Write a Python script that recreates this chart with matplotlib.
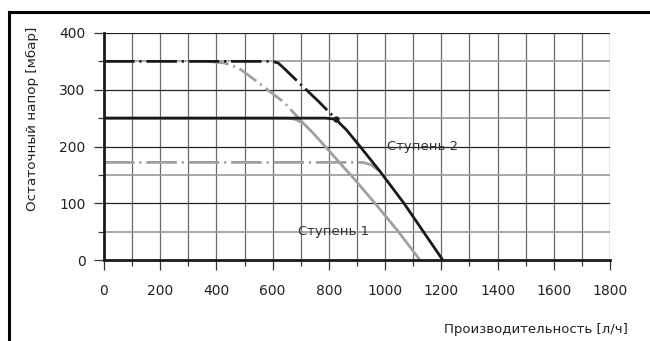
import matplotlib
matplotlib.use("Agg")
import matplotlib.pyplot as plt
from matplotlib.lines import Line2D
from matplotlib.ticker import MultipleLocator

plt.rcParams['font.family'] = ['DejaVu Sans']
plt.rcParams['lines.scale_dashes'] = False

# Ступень 2, сплошная
st2_x = [0, 790, 824, 863, 911, 982, 1067, 1136, 1205]
st2_y = [250, 250, 248, 229, 200, 156, 100, 50, 0]
# Ступень 2, штрихпунктир
st2dd_x = [0, 600, 620, 640, 709, 762, 822]
st2dd_y = [350, 350, 347, 338, 305, 280, 250]
# Ступень 1, сплошная
st1_x = [0, 650, 680, 709, 745, 798, 846, 881, 964, 1047, 1124]
st1_y = [250, 250, 248, 241, 223, 194, 167, 148, 100, 50, 0]
# Ступень 1, верхний штрихпунктир
st1dd_x = [370, 430, 480, 540, 600, 640, 709]
st1dd_y = [350, 347, 338, 316, 293, 278, 241]
# Ступень 1, нижний штрихпунктир
st1low_x = [0, 920, 950, 976]
st1low_y = [172, 172, 168, 158]

x_ticks = [0, 200, 400, 600, 800, 1000, 1200, 1400, 1600, 1800]
y_ticks = [0, 100, 200, 300, 400]

black = '#1a1a1a'
grey = '#a0a0a0'
txt = '#222222'

fig = plt.figure(figsize=(6.5, 3.41), dpi=100)
ax = fig.add_axes([104/650, 81/341, 506/650, 227/341])

ax.set_xlim(0, 1800)
ax.set_ylim(0, 400)

# сетка
for xv in range(100, 1801, 100):
    ax.axvline(xv, color='#6a6a6a', lw=0.9, zorder=1)
for yv in range(50, 401, 50):
    if yv % 100 == 0:
        ax.axhline(yv, color='#222222', lw=0.9, zorder=1)
    else:
        ax.axhline(yv, color='#999999', lw=1.2, zorder=1)

dd = (0, (22, 3.5, 1.5, 3.5))
dd_g = (0, (15, 3.5, 1.5, 3.5))

ax.plot(st1low_x, st1low_y, color=grey, lw=2, linestyle=dd, zorder=3,
        dash_capstyle='butt')
ax.plot(st1dd_x, st1dd_y, color=grey, lw=2, linestyle=dd_g, zorder=3,
        dash_capstyle='butt')
ax.plot(st1_x, st1_y, color=grey, lw=2, zorder=3)
ax.plot(st2dd_x, st2dd_y, color=black, lw=2, linestyle=dd, zorder=4,
        dash_capstyle='butt')
ax.plot(st2_x, st2_y, color=black, lw=2, zorder=4)
ax.plot([st2_x[2]], [st2_y[2]], 'o', color=black, ms=3.5, zorder=5)

ax.text(1005, 200, 'Ступень 2', fontsize=9.5, color='#333333', va='center', ha='left', zorder=6)
ax.text(690, 50, 'Ступень 1', fontsize=9.5, color='#333333', va='center', ha='left', zorder=6)

for s in ['top', 'right']:
    ax.spines[s].set_visible(False)
for s in ['left', 'bottom']:
    ax.spines[s].set_linewidth(2)
    ax.spines[s].set_color(black)
    ax.spines[s].set_zorder(6)

ax.set_xticks(x_ticks)
ax.set_yticks(y_ticks)
ax.xaxis.set_minor_locator(MultipleLocator(100))
ax.yaxis.set_minor_locator(MultipleLocator(50))
ax.tick_params(which='major', length=7.2, width=0.9, color='#333333',
               labelsize=10, labelcolor=txt)
ax.tick_params(which='minor', length=4.3, width=0.9, color='#333333')
ax.tick_params(axis='x', which='major', pad=10)
ax.tick_params(axis='y', which='major', pad=6)

fig.text(32/650, (341-118.5)/341, 'Остаточный напор [мбар]', fontsize=9.7,
         color=txt, rotation=90, ha='center', va='center')
fig.text(628/650, (341-330)/341, 'Производительность [л/ч]', fontsize=9.5,
         color=txt, ha='right', va='center')

# рамка
fig.add_artist(Line2D([9/650, 1], [1-12/341, 1-12/341], transform=fig.transFigure,
                      color='black', lw=2.2))
fig.add_artist(Line2D([9/650, 9/650], [0, 1-12/341], transform=fig.transFigure,
                      color='black', lw=2.2))

fig.savefig('out.png', dpi=100, facecolor='white')
